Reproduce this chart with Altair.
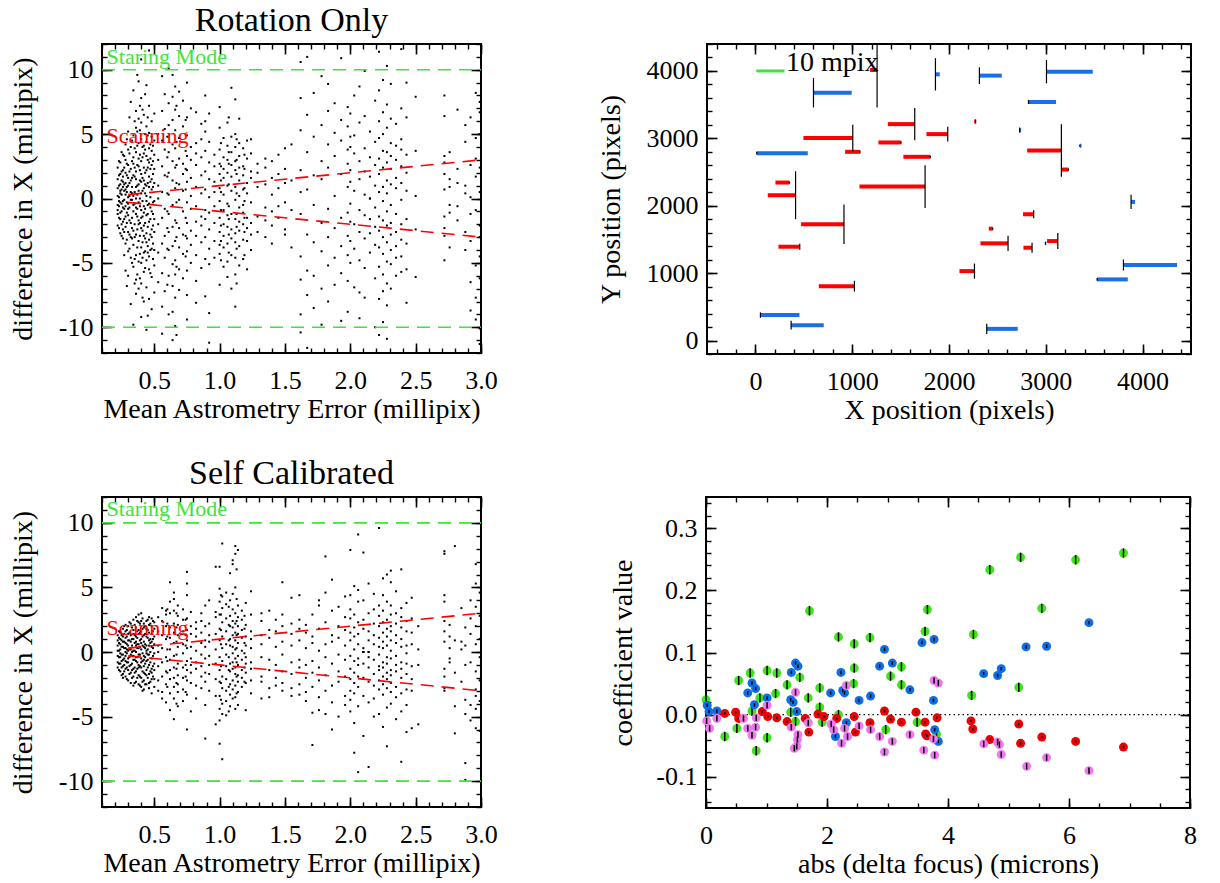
import altair as alt
import pandas as pd

FONT = "Liberation Serif"
MINUS = "replace(datum.label, '\u2212', '-')"
GREEN = "#3ee43a"
RED = "#ff0000"
BLUE = "#1a6fe6"

# ---------------- Rotation Only (top-left) ----------------
rot_strip_x = [0.22, 0.24, 0.26, 0.28, 0.30, 0.32, 0.34, 0.36, 0.38, 0.40, 0.42, 0.44, 0.46, 0.48, 0.50,
               0.53, 0.56, 0.58, 0.61, 0.64, 0.66, 0.69, 0.72, 0.75, 0.78,
               0.82, 0.86, 0.89, 0.92, 0.96,
               1.00, 1.03, 1.06, 1.09, 1.12, 1.15, 1.18, 1.21, 1.24,
               1.29, 1.35, 1.40, 1.45, 1.50, 1.55,
               1.62, 1.67, 1.72, 1.78, 1.83, 1.88, 1.93, 1.98,
               2.00, 2.03, 2.07, 2.11, 2.15, 2.19, 2.22, 2.25, 2.28, 2.31, 2.35, 2.39, 2.43, 2.50,
               2.72, 2.76, 2.82, 2.88, 2.92, 2.96, 2.99]
rot_strip_y = [
    [-0.5, 0.8, -1.2, 1.5, 0.2, -2.1, 2.4, -0.9],
    [1.1, -1.6, 0.4, -0.3, 2.8, -2.7, 1.9, -1.1, 0.6],
    [-0.2, 1.3, -1.8, 2.2, -3.1, 0.9, -0.7, 3.4, -2.4, 1.7],
    [0.3, -1.4, 2.0, -2.2, 1.2, -0.6, 3.0, -3.5, 0.7, -5.6, 4.2],
    [-0.8, 1.6, -2.6, 2.6, 0.1, -1.3, 3.8, -4.1, 1.0, -0.4, 5.2, -6.0],
    [0.5, -1.9, 2.3, -3.0, 1.4, -0.1, 4.0, -4.6, 7.5, -8.2],
    [-1.0, 1.8, -2.5, 3.2, 0.2, -3.6, 2.7, -0.5, 4.9, -5.3, 8.4, -9.8],
    [0.9, -1.2, 2.1, -2.8, 3.6, -4.4, 0.0, 1.5, -0.7, 5.5, -6.3, 6.8, -7.4],
    [-0.3, 1.1, -1.7, 2.5, -3.3, 4.3, -4.9, 0.6, 3.1, -2.0, 6.2, -7.0, 9.1],
    [0.4, -0.9, 1.9, -2.3, 2.9, -3.8, 4.6, -5.0, 1.3, -1.5, 5.9, -6.6, 7.8, -9.2, 10.8],
    [-0.6, 1.4, -2.1, 2.4, -2.9, 3.5, -4.2, 0.8, -1.1, 4.1, -5.7, 6.5, -8.0],
    [0.2, -1.3, 2.2, -2.7, 3.3, -3.4, 1.0, -0.2, 4.4, -4.8, 5.6, -6.9, 8.8, -10.2],
    [-0.4, 0.9, -1.8, 1.7, 2.8, -3.2, 3.9, -4.5, 5.1, -5.5, 7.2, -7.8, 11.5],
    [0.7, -1.0, 1.5, -2.4, 2.6, -3.0, 3.7, -3.9, 4.8, -6.1, 6.0, -8.6],
    [-0.2, 1.2, -1.6, 2.3, -2.6, 3.4, -4.0, 4.5, -5.2, 6.6, -7.3],
    [1.0, -2.0, 3.0, -4.2, 5.0, -6.5, 0.0],
    [0.5, -1.5, 2.5, -3.5, 4.5, -5.8, 6.8, -8.4, 9.5, -10.5],
    [-0.8, 1.8, -2.9, 3.8, -4.6, 5.4, -7.2, 8.1],
    [0.3, -1.2, 2.0, -2.6, 3.6, -4.0, 5.7, -6.0, 7.4, -9.0, 10.1],
    [-0.5, 1.4, -2.2, 2.9, -3.7, 4.2, -5.1, 6.1, -6.8, 7.9, -8.8, 9.6, -11.0],
    [0.8, -1.7, 2.4, -3.3, 3.9, -4.8, 5.3, -5.9, 6.9, -7.7, 8.7, -9.9],
    [-0.1, 1.1, -2.3, 3.1, -3.8, 4.7, -5.5, 6.4, -7.1, 8.3],
    [0.6, -1.0, 1.9, -2.8, 2.7, -4.3, 5.6, -6.2, 7.6],
    [-0.3, 1.3, -1.9, 2.2, -3.1, 3.3, -4.1, 4.9, -5.6, 6.3, -7.5, 9.0, -9.4],
    [0.2, -0.8, 1.6, -2.5, 3.0, -3.6, 4.0, -5.0, 7.0],
    [-0.6, 0.9, -1.8, 2.6, -2.9, 3.5, -4.4, 4.3, -6.4, 6.7, -8.1],
    [0.4, -1.4, 1.8, -2.1, 3.2, -3.4, 4.6, -5.4, 5.8],
    [-0.9, 0.7, -1.6, 2.1, -3.0, 3.7, -4.7, 5.2, 6.0, -7.6, 8.0],
    [0.1, -1.1, 1.5, -2.4, 2.8, -3.9, 4.4, -5.1, 6.6, -8.9, -11.2],
    [0.5, -0.6, 1.3, -1.9, 2.5, -3.3, 3.4, -4.6],
    [-0.2, 0.8, -1.5, 1.9, -2.6, 2.7, -3.6, 3.8, -4.3, 5.5, -6.7, 7.1],
    [0.3, -0.9, 1.6, -2.0, 2.3, -2.9, 3.2, -3.8, 4.7, -5.3],
    [-0.4, 1.0, -1.3, 2.0, -2.2, 3.0, -3.5, 4.1, -4.9, 5.9, -6.1],
    [0.6, -1.2, 1.7, -2.4, 2.6, -3.1, 3.6, -4.4, 4.8, -7.0, 8.6],
    [-0.1, 0.9, -1.6, 2.2, -2.7, 2.9, -3.4, 4.0, -4.6, 5.0, -5.9, 7.7, -8.4],
    [0.2, -0.7, 1.4, -1.8, 2.4, -2.5, 3.3, -3.7, 4.3, -5.2, 6.2],
    [-0.5, 0.7, -1.1, 1.8, -2.0, 2.5, -3.2, 3.9, -4.7],
    [0.4, -1.5, 1.2, -2.3, 3.1, -3.3, 4.5, -5.5],
    [-0.3, 1.6, -1.9, 2.1, -2.8, 3.5, -4.0, 4.6],
    [0.9, -1.4, 2.0, -2.6, 2.7],
    [-0.7, 1.1, -1.7, 2.4, -3.0, 3.1],
    [0.3, -1.0, 1.6, -2.1, 2.9, -3.5],
    [-0.6, 0.8, 1.9, -1.5, 3.4],
    [1.2, -0.3, 2.3, -2.4, 3.9, -2.8],
    [-0.9, 1.4, -3.8, 4.2],
    [-1.2, 2.2, -4.5, 5.3, -6.3, 7.8, -9.0, 10.6, -10.4, 0.5],
    [0.7, -2.8, 3.6, -5.6, 6.5, -7.5, 11.0, -11.6],
    [-0.5, 1.8, -3.4, 4.8, -6.0, 8.2, -8.5],
    [1.5, -1.9, 2.9, -4.1, 5.7, -7.0, 9.5, -9.8],
    [-0.8, 2.4, -3.0, 4.2, -5.2, 6.8, -8.0, 8.9],
    [0.2, -2.3, 3.3, -4.6, 5.1, -6.7, 7.4],
    [-1.5, 1.9, -3.7, 4.5, -5.8, 6.1, -9.5, 10.9],
    [0.9, -1.1, 2.7, -2.9, 3.8, -4.4, 5.6, -6.4, 7.1, -8.8],
    [-0.4, 1.3, -1.8, 2.2, -3.3, 4.0, 4.8, -5.0, 6.6],
    [0.6, -2.0, 3.5, -3.9, 4.9, -6.9, 8.0],
    [-0.9, 1.5, -2.6, 2.9, -4.8, 5.9, -7.3, 8.7, -9.3],
    [0.3, -1.3, 2.1, -3.1, 3.9, -5.4, 6.4, -7.7, 9.9],
    [0.0, 0.0, -1.6, 1.7, -2.7, 3.2, -4.2, 5.2],
    [-0.7, 1.0, -2.2, 2.6, -3.6, 4.4, -6.2, 7.6, -10.0],
    [0.5, -1.4, 1.9, -2.5, 3.1, -3.8, 4.7, -5.3, 6.0, -7.8, 8.4, -10.6, 11.4],
    [-0.2, 0.9, -1.7, 2.4, -3.0, 3.7, -4.3, 5.0, -5.9, 6.7, -7.2, 9.2, -9.6],
    [0.4, -1.0, 1.4, -2.1, 2.8, -3.4, 3.6, -4.9, 5.5, -6.6, 7.3, -8.3, 10.3, -10.9],
    [-0.5, 1.1, -1.9, 2.3, -2.8, 3.3, -4.0, 4.3, -5.1, 6.2, -7.0, 8.9],
    [0.8, -1.2, 1.6, -2.6, 3.0, -3.7, 4.1, -4.6, 5.8, -6.0],
    [-0.1, 1.2, -2.0, 2.5, -3.2, 3.8, -4.5, 4.6, -5.7, 7.0, 11.6],
    [0.6, -1.6, 2.0, -3.5, 3.4, -5.5, 6.3, -8.1, 9.0],
    [0.2, -2.4, 3.7, -6.1, 7.9],
    [0.7, -1.4, 1.9, -2.3, 2.8, 3.3, -4.8, 6.4, 8.0, -2.9],
    [-0.5, 0.9, 1.5, -1.1, 3.6, -3.8],
    [1.2, -1.7, 2.3, 6.9, -0.6],
    [0.4, -2.6, 4.4, -4.0, 5.7, 1.0],
    [-1.2, 2.6, -3.3, 6.3, -6.5, -8.7, 0.1],
    [1.7, -0.9, 3.1, -5.2, 4.7, -7.7, 8.2, -9.4],
    [0.5, -2.1, 2.4, -3.0, 5.0, -4.5, 6.7, -6.2, 7.5, -10.1, -11.3],
]
# extra points in the crowded columns
rot_dense_x = [0.23, 0.25, 0.27, 0.29, 0.31, 0.33, 0.35, 0.37, 0.39, 0.41, 0.43, 0.45, 0.47, 0.49,
               0.60, 0.67, 0.74, 1.01, 1.07, 1.13, 1.19]
rot_dense_y = [
    [0.1, -0.6, 1.0, -1.5, 1.8, -2.3, 2.9, -0.2],
    [-0.4, 0.7, -1.0, 1.4, -2.0, 2.1, -2.9, 3.6, 0.3],
    [0.6, -0.8, 1.1, -1.6, 2.4, -2.6, 3.3, -4.4, -0.1],
    [-0.3, 0.5, -1.1, 1.8, -1.9, 2.7, -3.2, 4.6, 0.9, -6.8],
    [0.2, -0.7, 1.2, -1.7, 2.1, -2.8, 3.5, -3.9, 6.3],
    [-0.1, 0.9, -1.5, 1.6, -2.3, 2.9, -3.1, 4.5, -5.0, 0.4],
    [0.5, -0.4, 1.7, -2.0, 2.4, -3.0, 3.9, -4.7, 6.0, -6.6],
    [-0.8, 0.3, 1.0, -1.4, 2.6, -2.4, 4.1, -3.8, 5.2, -5.9, 9.6],
    [0.0, -0.6, 1.4, -1.9, 2.2, -2.9, 3.4, -4.3, 5.3, -6.2, 7.2],
    [-0.2, 0.6, -1.4, 1.6, -2.5, 3.2, -3.4, 4.0, -4.6, 6.9, -7.7],
    [0.4, -0.8, 1.1, -1.9, 2.0, -3.1, 3.8, -4.1, 5.0, -5.4, 8.1],
    [-0.5, 1.2, -1.2, 2.4, -2.2, 3.0, -3.7, 4.9, -4.2, 6.3, -9.1],
    [0.1, -0.7, 1.3, -1.6, 2.3, -2.8, 3.1, -4.0, 4.2, -5.8],
    [-0.3, 0.9, -1.2, 1.9, -2.1, 2.9, -3.5, 4.1, -4.7],
    [0.4, -1.0, 1.7, -2.3, 3.2, -3.9, 4.8, -6.7],
    [-0.3, 1.2, -1.9, 2.6, -3.0, 4.4, -5.3, 7.2, -10.6],
    [0.7, -1.5, 2.3, -2.9, 3.7, -4.5, 6.1],
    [0.5, -0.9, 1.4, -2.1, 2.5, -3.3, 4.3, -4.8],
    [-0.6, 1.1, -1.6, 2.7, -2.8, 3.6, -4.2, 6.3],
    [0.4, -1.2, 1.9, -2.2, 3.0, -3.9, 4.6, -6.6],
    [-0.2, 0.8, -1.5, 2.3, -2.6, 3.4, -4.4],
]

# ---------------- Self Calibrated (bottom-left) ----------------
cal_strip_x = [0.22, 0.24, 0.26, 0.28, 0.30, 0.32, 0.34, 0.36, 0.38, 0.40, 0.42, 0.44, 0.46, 0.48, 0.50,
               0.53, 0.56, 0.59, 0.62, 0.65, 0.68, 0.72, 0.75, 0.78,
               0.82, 0.86, 0.89, 0.92, 0.97,
               1.00, 1.02, 1.05, 1.08, 1.10, 1.12, 1.14, 1.17, 1.20, 1.24,
               1.32, 1.38, 1.43, 1.48, 1.55, 1.61, 1.66, 1.71, 1.76, 1.81, 1.86, 1.91, 1.96,
               2.00, 2.03, 2.06, 2.10, 2.14, 2.18, 2.22, 2.25, 2.28, 2.31, 2.35, 2.39, 2.43, 2.47, 2.52,
               2.72, 2.76, 2.80, 2.85, 2.88, 2.92, 2.96, 2.99]
cal_strip_y = [
    [-0.3, 0.5, -0.8, 0.9, 0.1, -1.2, 1.3],
    [0.6, -0.9, 0.2, -0.4, 1.5, -1.5, 1.0, -0.1],
    [-0.2, 0.8, -1.1, 1.2, -1.7, 0.4, -0.6, 1.8, -2.0],
    [0.3, -0.7, 1.1, -1.3, 0.7, -0.3, 1.6, -1.9, 0.0, 2.1],
    [-0.5, 0.9, -1.4, 1.4, 0.1, -0.8, 2.0, -2.2, 0.5],
    [0.2, -1.0, 1.3, -1.6, 0.8, -0.2, 2.2, -2.4],
    [-0.6, 1.0, -1.3, 1.7, 0.1, -1.9, 1.4, -0.3, 2.5, -2.6],
    [0.5, -0.7, 1.2, -1.5, 1.9, -2.3, 0.0, 0.8, -0.4, 2.7],
    [-0.2, 0.6, -1.0, 1.4, -1.8, 2.3, -2.5, 0.3, 1.7, -1.2, 2.9],
    [0.2, -0.5, 1.0, -1.2, 1.6, -2.0, 2.4, -2.7, 0.7, -0.8, 3.0],
    [-0.3, 0.8, -1.1, 1.3, -1.6, 1.9, -2.2, 0.4, -0.6, 2.2, -2.9],
    [0.1, -0.7, 1.2, -1.4, 1.8, -1.8, 0.5, -0.1, 2.4, -2.5],
    [-0.2, 0.5, -1.0, 0.9, 1.5, -1.7, 2.1, -2.4, 2.7, -2.8],
    [0.4, -0.5, 0.8, -1.3, 1.4, -1.6, 2.0, -2.1, 2.6, -3.2],
    [-0.1, 0.6, -0.9, 1.2, -1.4, 1.8, -2.1, 2.3, -2.7],
    [0.5, -1.1, 1.6, -2.2, 2.7, -3.0, 0.0],
    [0.3, -0.8, 1.3, -1.9, 2.4, -3.1, 3.4, -3.6],
    [-0.4, 1.0, -1.5, 2.0, -2.5, 2.9, -3.9, 3.2],
    [0.2, -0.6, 1.1, -1.4, 1.9, -2.1, 3.0, -3.2, 3.9, -4.5, 5.4],
    [-0.3, 0.7, -1.2, 1.5, -2.0, 2.2, -2.7, 3.2, -3.6, 4.1, -5.2, 4.6],
    [0.4, -0.9, 1.3, -1.8, 2.1, -2.5, 2.8, -3.1, 3.6, -4.2],
    [-0.1, 0.6, -1.2, 1.6, -2.0, 2.5, -2.9, 3.3, -3.8],
    [0.3, -0.7, 0.9, -1.4, 1.7, -2.2, 2.6, -3.3, 4.4, 5.3, 6.2, -6.0],
    [-0.5, 0.4, -1.0, 1.4, -1.6, 2.0, -2.4, 3.1, -4.6],
    [0.1, -0.8, 1.2, -1.3, 1.8, -2.6, 2.3, -3.6],
    [-0.2, 0.7, -1.1, 1.5, -1.9, 2.4, -2.8, 3.0],
    [0.4, -0.5, 0.9, -1.6, 2.0, -2.3, 3.6, -4.1, -6.7],
    [-0.3, 0.8, -1.0, 1.3, -1.7, 2.2, -3.0, 4.0],
    [0.2, -0.9, 1.4, -2.1, 2.7, -3.4, 3.1, -5.6, 6.6],
    [-0.4, 0.9, -1.4, 1.8, -2.3, 2.9, -3.4, 3.9, -4.4, 4.9, -5.3, 6.6, -7.1],
    [0.3, -0.7, 1.2, -1.9, 2.3, -2.8, 3.4, -4.0, 4.3, -4.8, 8.4, -8.3],
    [-0.2, 0.6, -1.1, 1.6, -2.1, 2.6, -3.0, 3.7, -3.8, 4.6, -4.9],
    [0.5, -0.9, 1.0, -1.5, 2.0, -2.5, 2.8, -3.3, 4.0, -4.2, 6.1],
    [-0.1, 0.4, -0.8, 1.3, -1.3, 1.9, -2.2, 2.4, -2.9, 3.3, -3.6, 4.5, 6.8, 7.1],
    [0.2, -0.5, 0.9, -1.2, 1.5, -1.7, 2.2, -2.6, 3.0, -3.5, 5.0, 8.2, 7.6, -4.4],
    [-0.3, 0.7, -1.0, 1.4, -1.8, 2.0, -2.3, 2.7, -3.1, 3.6, -4.1, 7.9],
    [0.1, -0.6, 1.1, -1.4, 1.7, -2.0, 2.5, -2.7, 3.2],
    [-0.4, 0.5, -0.9, 1.2, -1.6, 2.1, -2.4, 3.8, -4.5],
    [0.3, -0.8, 1.0, -1.3, 1.6, -2.2, 2.9, -3.2, 4.7],
    [0.6, -0.4, 1.3, -1.9, 2.4, -2.3, 3.0, -3.6],
    [-0.6, 1.1, -1.4, 1.7, -2.8, 3.2, -3.5],
    [0.4, -1.0, 1.6, -2.0, 2.5, -2.6],
    [-0.2, 0.8, -1.5, 2.0, -2.4, 2.9, -3.0, 5.4],
    [0.5, -0.8, 1.4, -1.7, 2.2, -2.8, 4.2, -3.4],
    [-0.6, 0.9, -1.2, 1.8, -2.5, 2.5, -3.3, 4.4],
    [0.3, -1.0, 1.5, -2.0, 2.1, -3.1, -3.8],
    [-0.7, 0.7, -1.6, 1.2, -2.7, 2.9, -4.7, -7.2],
    [0.1, -1.2, 1.8, -2.2, 3.6, -3.5, 4.0, -4.5],
    [-0.4, 0.6, -1.8, 2.3, -3.0, 4.6, -4.8, 7.4],
    [0.8, -0.9, 1.3, -2.6, 3.2, -3.9, 5.6, -6.0],
    [-0.2, 1.1, -1.5, 2.0, -2.3, 3.5, -5.0],
    [0.5, -0.6, 1.7, -1.9, 2.7, -3.4, 4.3, -4.1],
    [-0.3, 0.9, -1.3, 1.5, -2.1, 2.6, -3.0, 3.3, -3.7, 4.4, -4.6, 7.9],
    [0.2, -0.7, 1.2, -1.6, 1.9, -2.4, 2.9, -3.2, 5.1, -5.5, -7.8],
    [-0.5, 0.6, -1.0, 1.4, -1.9, 2.3, -2.7, 3.9, 4.8, -4.2, 9.1, -9.3],
    [0.0, 0.0, 0.0, 0.3, -0.9, 1.8, -2.0, 2.5, -3.4, 4.0, -6.5, 7.7],
    [0.0, 0.0, -0.4, 0.9, -1.2, 1.6, -2.3, 3.0, -3.9, 5.3, -8.9],
    [0.6, -0.6, 1.3, -1.7, 2.2, -2.6, 3.3, -3.6, 4.5, -5.0],
    [-0.2, 0.4, -1.1, 1.1, -1.4, 2.0, -2.2, 2.8, -2.9, 3.6, -4.8, 9.6],
    [0.3, -0.8, 0.8, -1.2, 1.5, -1.9, 2.3, -2.5, 3.2, -3.3, 4.4, -5.8, 5.7],
    [-0.4, 0.5, -0.9, 1.2, -1.6, 1.8, -2.1, 2.5, -2.8, 3.9, -4.3, 6.0, -7.3],
    [0.1, -0.5, 0.9, -1.4, 1.6, -1.8, 2.0, -2.4, 2.9, -3.1, 3.6, -4.0, 5.4, 6.3],
    [-0.3, 0.7, -1.0, 1.3, -1.5, 2.2, -2.7, 3.0, -3.5, 4.7, -5.2],
    [0.4, -0.8, 1.0, -1.3, 1.9, -2.0, 2.7, -3.2, 3.4, -4.6, 6.4, -8.5],
    [-0.1, 0.5, -0.9, 1.6, -1.7, 2.4, -2.9, 3.8, -4.1, -6.2],
    [0.6, -1.1, 1.5, -2.1, 2.6, -3.0, 4.2, -5.9],
    [0.2, -1.0, 2.0, -5.6],
    [0.8, -1.3, 1.6, -1.9, 2.4, 3.9, 4.4, -2.8, 7.6, 7.8, -3.0],
    [-0.5, 0.3, 1.2, -0.8, 2.1],
    [0.9, -1.6, -4.2, 8.2, -6.3],
    [0.2, -2.3, 3.4, 0.8],
    [-1.0, 1.9, -3.7, -4.8, -8.6, -9.9, 0.5],
    [1.4, -0.8, 2.6, -4.1, 4.0, -5.3],
    [0.6, -1.5, 2.0, -2.9, 3.5, -3.4, 5.3, 6.8, -4.4, -5.9],
    [-0.4, 1.0, -2.2, 2.8, -3.8, 4.6, -6.1],
]
cal_dense_x = [0.23, 0.25, 0.27, 0.29, 0.31, 0.33, 0.35, 0.37, 0.39, 0.41, 0.43, 0.45, 0.47, 0.49,
               0.60, 0.67, 0.74, 1.01, 1.07, 1.13, 1.19]
cal_dense_y = [
    [0.1, -0.4, 0.7, -0.9, 1.1, -1.4, 1.6],
    [-0.2, 0.4, -0.7, 0.9, -1.2, 1.3, -1.8],
    [0.3, -0.5, 0.8, -1.0, 1.4, -1.5, 2.0],
    [-0.1, 0.6, -0.8, 1.2, -1.2, 1.7, -2.1, 0.2],
    [0.2, -0.4, 0.9, -1.1, 1.5, -1.7, 2.3],
    [-0.3, 0.5, -0.9, 1.0, -1.4, 1.9, -2.0, 0.0],
    [0.1, -0.6, 0.7, -1.2, 1.3, -1.6, 2.1, -2.4],
    [-0.4, 0.3, -0.8, 1.1, -1.3, 1.6, -2.0, 2.4, 0.6],
    [0.4, -0.2, 0.9, -1.1, 1.5, -1.9, 2.2, -2.6],
    [-0.1, 0.5, -0.7, 1.2, -1.5, 1.8, -2.3, 2.6, -3.0],
    [0.3, -0.4, 0.6, -0.9, 1.4, -1.7, 2.0, -2.5],
    [-0.2, 0.2, -0.6, 1.1, -1.2, 1.7, -2.0, 2.5],
    [0.0, 0.7, -0.8, 1.0, -1.5, 2.2, -2.3],
    [0.3, -0.3, 1.0, -1.1, 1.6, -1.9, 2.4],
    [0.2, -0.7, 1.2, -1.6, 2.2, -2.7, 3.3],
    [-0.2, 0.8, -1.3, 1.9, -2.4, 3.0, -4.0],
    [0.5, -1.0, 1.3, -1.9, 2.5, -3.1],
    [0.6, -1.1, 1.7, -2.4, 2.9, -3.7, 4.4],
    [-0.4, 0.9, -1.4, 2.1, -2.7, 3.5, -4.6],
    [0.3, -0.8, 1.3, -1.9, 2.4, -3.2, 4.1, 6.4],
    [-0.1, 0.7, -1.2, 1.8, -2.3, 2.8],
]

# reference lines and labels of the two scatter panels
stare_x = [0.1, 3.0]
stare_y = [10, -10]
scan_x = [0.3, 3.0]
scan_upper = [0.3, 3.0]
scan_lower = [-0.3, -3.0]
label_x = 0.135
rot_label_y = [10.45, 4.3]
cal_label_y = [10.5, 1.3]

# ---------------- Position map (top-right) ----------------
seg_x0 = [600, 1257, 1860, 2314, 3007, 2821, 1646, 2275, 2730, 1987, 1006, 14, 1505, 1080, 1808,
          3161, 3351, 3234, 352, 415, 1753, 3881, 2875, 915, 2452, 2610, 458, 2858, 3124, 2996,
          2263, 3802, 3530, 1023, 52, 369, 2390]
seg_y = [3677, 4014, 3950, 3931, 3990, 3539, 3211, 3251, 3122, 3063, 3004, 2780, 2939, 2800, 2726,
         2820, 2890, 2537, 2344, 2156, 2285, 2057, 1874, 1725, 1660, 1442, 1392, 1377, 1476, 1442,
         1030, 1120, 907, 807, 377, 228, 173]
seg_dx = [395, -72, 45, 231, 478, 285, -278, -15, 15, -220, -510, 527, -234, -153, -279,
          -354, 18, -76, -145, -287, -678, 41, -110, -443, -41, -285, -220, -89, -111, 10,
          -155, 554, 317, -368, 403, 337, 320]
seg_dy = [218, 555, 240, 124, 174, 30, 238, 30, 40, 109, 198, 20, 15, 20, 15,
          389, 15, 15, 15, 355, 317, 106, 60, 293, 15, 112, 45, 74, 119, 20,
          112, 82, 20, 80, 40, 65, 75]
legend_x = [10, 300]
legend_y = 4000
legend_text_x = 315

# ---------------- Coefficients (bottom-right) ----------------
grn_x = [0.0, 0.31, 0.54, 0.51, 0.73, 0.76, 0.83, 0.89, 1.01, 1.01, 1.15, 1.17, 1.34, 1.40, 1.48,
         1.55, 1.69, 1.71, 1.88, 1.88, 1.92, 2.19, 2.19, 2.45, 2.45, 2.44, 2.71, 2.97, 3.05, 3.23,
         3.23, 3.49, 3.62, 3.66, 3.81, 4.39, 4.42, 4.69, 5.17, 5.20, 5.55, 6.11, 6.90]
grn_y = [0.024, -0.035, 0.055, -0.022, 0.067, 0.006, -0.058, 0.027, 0.071, -0.037, 0.034, 0.067, 0.048, 0.004, -0.011,
         0.060, 0.027, 0.167, 0.043, 0.012, -0.012, 0.125, 0.000, 0.114, 0.075, 0.050, 0.124, -0.024, 0.062, 0.077,
         0.048, -0.012, 0.134, 0.169, -0.031, 0.031, 0.129, 0.233, 0.044, 0.253, 0.171, 0.249, 0.260]
blu_x = [0.02, 0.05, 0.18, 0.69, 0.76, 0.82, 0.80, 1.01, 1.41, 1.48, 1.52, 1.40, 1.44, 1.50, 2.06,
         2.14, 2.23, 2.26, 2.29, 2.32, 2.53, 2.72, 2.87, 2.95, 3.08, 3.37, 3.57, 3.77, 3.76, 3.78,
         3.84, 4.59, 4.82, 4.88, 5.29, 5.63, 6.33]
blu_y = [0.015, 0.005, 0.006, 0.035, 0.051, 0.042, 0.016, 0.027, 0.068, 0.083, 0.078, 0.024, 0.020, 0.005, 0.035,
         -0.035, 0.068, 0.039, 0.035, -0.013, 0.023, 0.030, 0.078, 0.105, 0.083, 0.040, 0.116, 0.121, 0.023, -0.024,
         -0.043, 0.066, 0.063, 0.074, 0.109, 0.110, 0.148]
red_x = [0.31, 0.49, 0.54, 0.93, 1.02, 1.17, 1.34, 1.64, 1.70, 1.85, 1.95, 2.16, 2.45, 2.47, 2.71,
         2.95, 3.05, 3.23, 3.47, 3.62, 3.63, 3.82, 3.65, 4.38, 4.41, 4.69, 5.17, 5.20, 5.55, 6.11, 6.90]
red_y = [0.002, 0.004, -0.006, 0.005, -0.003, -0.005, -0.011, -0.006, -0.028, 0.001, -0.003, -0.006, -0.003, -0.028, -0.013,
         0.006, -0.007, -0.012, 0.004, -0.012, -0.031, -0.005, -0.034, -0.010, -0.023, -0.040, -0.015, -0.046, -0.036, -0.043, -0.052]
mag_x = [0.01, 0.06, 0.18, 0.62, 0.69, 0.76, 0.82, 0.83, 1.01, 1.48, 1.41, 1.46, 1.50, 1.52, 1.51,
         1.69, 2.07, 2.11, 2.24, 2.29, 2.32, 2.34, 2.53, 2.72, 2.87, 2.95, 3.08, 3.37, 3.60, 3.76,
         3.77, 3.84, 3.78, 4.59, 4.82, 4.85, 4.88, 5.30, 5.63, 6.33]
mag_y = [-0.010, -0.022, -0.006, -0.006, -0.022, -0.033, -0.020, -0.005, 0.015, 0.036, -0.020, -0.054, -0.051, -0.032, -0.040,
         -0.013, -0.015, -0.024, -0.046, -0.022, 0.047, -0.035, -0.018, -0.024, -0.035, -0.060, -0.043, -0.032, -0.057, -0.039,
         0.055, 0.051, -0.065, -0.047, -0.044, -0.048, -0.064, -0.083, -0.069, -0.090]
grn_err = 0.0075
blu_err = 0.0028
red_err = 0.0018
mag_err = 0.005
coef_colors = {"grn": "#40e41e", "blu": "#0d6ee8", "red": "#ec0000", "mag": "#f078ee"}

# tick labels
sc_xticks = [0.5, 1.0, 1.5, 2.0, 2.5, 3.0]
sc_yticks = [-10, -5, 0, 5, 10]
pos_ticks = [0, 1000, 2000, 3000, 4000]
coef_xticks = [0, 2, 4, 6, 8]
coef_yticks = [-0.1, 0.0, 0.1, 0.2, 0.3]


def strips(xs, ys):
    return pd.DataFrame([{"x": x, "y": y} for x, yl in zip(xs, ys) for y in yl])


def frame_layers(xsc, ysc, xdom, ydom, xvals, yvals, xcnt, ycnt, xfmt, yfmt, xtitle, ytitle, ytpad):
    dummy = pd.DataFrame({"x": [xdom[0]], "y": [ydom[0]]})

    def lay(ax, ay):
        return alt.Chart(dummy).mark_point(opacity=0, size=1).encode(
            x=alt.X("x:Q", scale=xsc, axis=ax),
            y=alt.Y("y:Q", scale=ysc, axis=ay))

    major = dict(offset=-10, tickSize=10, tickWidth=1.6, minExtent=0)
    minor = dict(offset=-5, tickSize=5, tickWidth=1.4, labels=False, title=None, minExtent=0)
    return [
        lay(alt.Axis(orient="bottom", values=xvals, format=xfmt, labelExpr=MINUS, labelPadding=14,
                     title=xtitle, titlePadding=2, **major),
            alt.Axis(orient="left", values=yvals, format=yfmt, labelExpr=MINUS, labelPadding=9,
                     title=ytitle, titlePadding=ytpad, **major)),
        lay(alt.Axis(orient="top", values=xvals, labels=False, title=None, **major),
            alt.Axis(orient="right", values=yvals, labels=False, title=None, **major)),
        lay(alt.Axis(orient="bottom", tickCount=xcnt, **minor),
            alt.Axis(orient="left", tickCount=ycnt, **minor)),
        lay(alt.Axis(orient="top", tickCount=xcnt, **minor),
            alt.Axis(orient="right", tickCount=ycnt, **minor)),
    ]


def panel_title(text):
    return alt.TitleParams(text=text, font=FONT, fontSize=34, fontWeight="normal", color="black",
                           anchor="middle", baseline="bottom", offset=-29)


def scatter_panel(xs_list, ys_list, dxs, dys, label_y, title, height):
    xdom, ydom = [0.1, 3.0], [-12, 12]
    xsc = alt.Scale(domain=xdom, nice=False, zero=False)
    ysc = alt.Scale(domain=ydom, nice=False, zero=False)
    df = pd.concat([strips(xs_list, ys_list), strips(dxs, dys)], ignore_index=True)
    dots = alt.Chart(df).mark_square(size=4, color="black", opacity=1).encode(
        x=alt.X("x:Q", scale=xsc, axis=None), y=alt.Y("y:Q", scale=ysc, axis=None))
    stare = alt.Chart(pd.DataFrame({"x": [stare_x[0]] * 2, "x2": [stare_x[1]] * 2, "y": stare_y})).mark_rule(
        color=GREEN, strokeDash=[13, 8], strokeWidth=1.6).encode(
        x=alt.X("x:Q", scale=xsc, axis=None), x2="x2:Q", y=alt.Y("y:Q", scale=ysc, axis=None))
    scan_df = pd.DataFrame({"x": scan_x + scan_x, "y": scan_upper + scan_lower, "g": ["u", "u", "l", "l"]})
    scan = alt.Chart(scan_df).mark_line(color=RED, strokeDash=[13, 8], strokeWidth=1.6).encode(
        x=alt.X("x:Q", scale=xsc, axis=None), y=alt.Y("y:Q", scale=ysc, axis=None), detail="g:N")
    t1 = alt.Chart(pd.DataFrame({"x": [label_x], "y": [label_y[0]], "t": ["Staring Mode"]})).mark_text(
        align="left", baseline="alphabetic", font=FONT, fontSize=22, color=GREEN).encode(
        x=alt.X("x:Q", scale=xsc, axis=None), y=alt.Y("y:Q", scale=ysc, axis=None), text="t:N")
    t2 = alt.Chart(pd.DataFrame({"x": [label_x], "y": [label_y[1]], "t": ["Scanning"]})).mark_text(
        align="left", baseline="alphabetic", font=FONT, fontSize=22, color=RED).encode(
        x=alt.X("x:Q", scale=xsc, axis=None), y=alt.Y("y:Q", scale=ysc, axis=None), text="t:N")
    axes = frame_layers(xsc, ysc, xdom, ydom, sc_xticks, sc_yticks, 29, 24, ".1f", "d",
                        "Mean Astrometry Error (millipix)", "difference in X (millipix)", 21)
    return alt.layer(dots, stare, scan, t1, t2, *axes).resolve_axis(
        x="independent", y="independent").properties(width=379, height=height, title=panel_title(title))


def position_panel():
    xdom, ydom = [-500, 4500], [-200, 4400]
    xsc = alt.Scale(domain=xdom, nice=False, zero=False)
    ysc = alt.Scale(domain=ydom, nice=False, zero=False)
    seg = pd.DataFrame({"x0": seg_x0, "y": seg_y, "dx": seg_dx, "dy": seg_dy})
    seg["x1"] = seg["x0"] + seg["dx"]
    seg["ya"] = seg["y"] - seg["dy"]
    seg["yb"] = seg["y"] + seg["dy"]
    seg["c"] = ["pos" if d > 0 else "neg" for d in seg["dx"]]
    hseg = alt.Chart(seg).mark_rule(strokeWidth=4, strokeCap="butt").encode(
        x=alt.X("x0:Q", scale=xsc, axis=None), x2="x1:Q", y=alt.Y("y:Q", scale=ysc, axis=None),
        color=alt.Color("c:N", scale=alt.Scale(domain=["pos", "neg"], range=[BLUE, RED]), legend=None))
    vseg = alt.Chart(seg).mark_rule(strokeWidth=1.2, color="black", clip=True).encode(
        x=alt.X("x0:Q", scale=xsc, axis=None), y=alt.Y("ya:Q", scale=ysc, axis=None), y2="yb:Q")
    leg = alt.Chart(pd.DataFrame({"x": [legend_x[0]], "x2": [legend_x[1]], "y": [legend_y]})).mark_rule(
        color=GREEN, strokeWidth=3).encode(
        x=alt.X("x:Q", scale=xsc, axis=None), x2="x2:Q", y=alt.Y("y:Q", scale=ysc, axis=None))
    legt = alt.Chart(pd.DataFrame({"x": [legend_text_x], "y": [legend_y], "t": ["10 mpix"]})).mark_text(
        align="left", baseline="alphabetic", font=FONT, fontSize=28, color="black").encode(
        x=alt.X("x:Q", scale=xsc, axis=None), y=alt.Y("y:Q", scale=ysc, axis=None), text="t:N")
    axes = frame_layers(xsc, ysc, xdom, ydom, pos_ticks, pos_ticks, 25, 23, "d", "d",
                        "X position (pixels)", "Y position (pixels)", 21)
    return alt.layer(hseg, vseg, leg, legt, *axes).resolve_axis(
        x="independent", y="independent").properties(width=484, height=310, title=panel_title(" "))


def coef_panel():
    xdom, ydom = [0, 8], [-0.15, 0.35]
    xsc = alt.Scale(domain=xdom, nice=False, zero=False)
    ysc = alt.Scale(domain=ydom, nice=False, zero=False)
    zero = alt.Chart(pd.DataFrame({"x": [0], "x2": [8], "y": [0.0]})).mark_rule(
        color="black", strokeDash=[1.5, 3], strokeWidth=1.2).encode(
        x=alt.X("x:Q", scale=xsc, axis=None), x2="x2:Q", y=alt.Y("y:Q", scale=ysc, axis=None))
    layers = [zero]
    for key, xs, ys, err in [("grn", grn_x, grn_y, grn_err), ("blu", blu_x, blu_y, blu_err),
                             ("red", red_x, red_y, red_err), ("mag", mag_x, mag_y, mag_err)]:
        d = pd.DataFrame({"x": xs, "y": ys})
        d["ya"] = d["y"] - err
        d["yb"] = d["y"] + err
        layers.append(alt.Chart(d).mark_circle(size=80, color=coef_colors[key], opacity=1).encode(
            x=alt.X("x:Q", scale=xsc, axis=None), y=alt.Y("y:Q", scale=ysc, axis=None)))
        layers.append(alt.Chart(d).mark_rule(color="black", strokeWidth=1.5).encode(
            x=alt.X("x:Q", scale=xsc, axis=None), y=alt.Y("ya:Q", scale=ysc, axis=None), y2="yb:Q"))
    axes = frame_layers(xsc, ysc, xdom, ydom, coef_xticks, coef_yticks, 16, 25, "d", ".1f",
                        "abs (delta focus) (microns)", "coefficient value", 18)
    return alt.layer(*layers, *axes).resolve_axis(
        x="independent", y="independent").properties(width=484, height=311, title=panel_title(" "))


A = scatter_panel(rot_strip_x, rot_strip_y, rot_dense_x, rot_dense_y, rot_label_y, "Rotation Only", 309)
B = position_panel()
C = scatter_panel(cal_strip_x, cal_strip_y, cal_dense_x, cal_dense_y, cal_label_y, "Self Calibrated", 310)
D = coef_panel()

top = alt.hconcat(A, B, spacing=97)
bottom = alt.hconcat(C, D, spacing=109)
chart = alt.vconcat(top, bottom, spacing=31).properties(
    padding={"left": 0, "top": -5, "right": 5, "bottom": 0}
).configure_view(stroke="black", strokeWidth=2).configure_axis(
    labelFont=FONT, labelFontSize=26, labelColor="black", titleFont=FONT, titleFontSize=28,
    titleFontWeight="normal", titleColor="black", tickColor="black", domain=False, grid=False,
    labelOverlap=False, labelFlush=False)

chart.save("out.html", embed_options={"renderer": "svg", "actions": False})
